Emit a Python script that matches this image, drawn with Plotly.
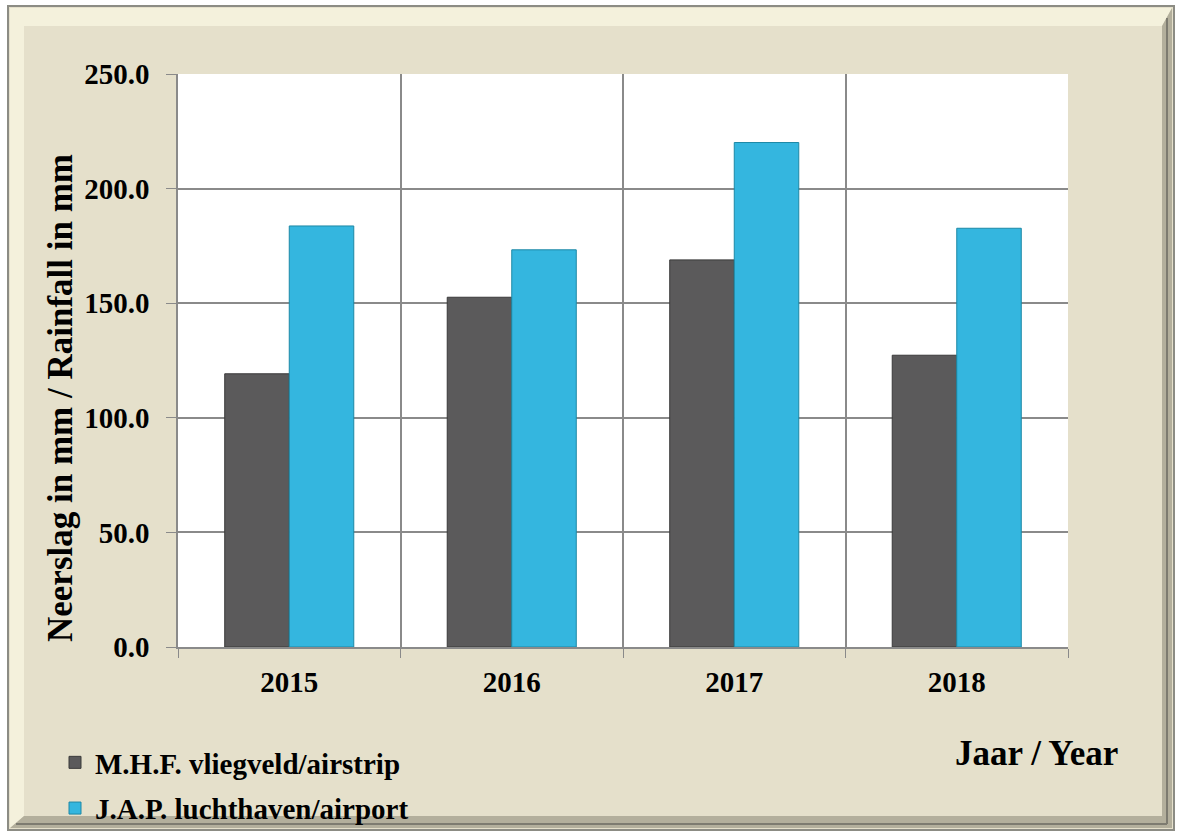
import plotly.graph_objects as go

years = ["2015", "2016", "2017", "2018"]
airstrip = [119.2, 152.6, 168.9, 127.3]
airport = [183.7, 173.3, 220.1, 182.7]
series_names = ["M.H.F. vliegveld/airstrip", "J.A.P. luchthaven/airport"]
y_ticks = [0, 50, 100, 150, 200, 250]
y_tick_text = ["0.0", "50.0", "100.0", "150.0", "200.0", "250.0"]

W, H = 1182, 838
L, R, T, B = 178, 1068, 74, 647
FONT = "Liberation Serif"

def px(x):
    return (x - L) / (R - L)

def py(y):
    return (B - y) / (B - T)

fig = go.Figure()
fig.add_trace(go.Bar(x=years, y=airstrip, name=series_names[0], legendgroup="a",
                     marker=dict(color="#5b5a5b", line=dict(color="#3a3a3a", width=1))))
fig.add_trace(go.Bar(x=years, y=airport, name=series_names[1], legendgroup="b",
                     marker=dict(color="#34b6df", line=dict(color="#1d88a6", width=1))))

shapes = []
# outer frame
shapes.append(dict(type="rect", xref="paper", yref="paper", x0=px(8), x1=px(1174), y0=py(6), y1=py(830),
                   fillcolor="#e5e0cb", line=dict(color="#8c8c84", width=2), layer="below"))
# top/left light bevel
shapes.append(dict(type="path", xref="paper", yref="paper",
                   path=f"M {px(10)} {py(8)} L {px(1172)} {py(8)} L {px(1162)} {py(26)} L {px(24)} {py(26)} L {px(24)} {py(816)} L {px(10)} {py(828)} Z",
                   fillcolor="#f4f1dc", line=dict(width=0), layer="below"))
# bottom/right dark bevel
shapes.append(dict(type="path", xref="paper", yref="paper",
                   path=f"M {px(1172)} {py(8)} L {px(1172)} {py(828)} L {px(10)} {py(828)} L {px(24)} {py(816)} L {px(1162)} {py(816)} L {px(1162)} {py(26)} Z",
                   fillcolor="#b3af9c", line=dict(width=0), layer="below"))
# inner dark edge lines
shapes.append(dict(type="line", xref="paper", yref="paper", x0=px(1167), x1=px(1167), y0=py(18), y1=py(824),
                   line=dict(color="#7d7b70", width=2), layer="below"))
shapes.append(dict(type="line", xref="paper", yref="paper", x0=px(16), x1=px(1167), y0=py(824), y1=py(824),
                   line=dict(color="#7d7b70", width=2), layer="below"))
# white plot area
shapes.append(dict(type="rect", xref="x domain", yref="y domain", x0=0, x1=1, y0=0, y1=1,
                   fillcolor="white", line=dict(width=0), layer="below"))

fig.update_layout(
    width=W, height=H,
    margin=dict(l=L, r=W - R, t=T, b=H - B, autoexpand=False),
    paper_bgcolor="white",
    plot_bgcolor="white",
    barmode="group",
    bargap=0.42,
    bargroupgap=0,
    shapes=shapes,
    font=dict(family=FONT, color="black"),
    legend=dict(x=px(55), y=py(737), xanchor="left", yanchor="top",
                font=dict(family=FONT, size=29, color="black", weight="bold"),
                bgcolor="rgba(0,0,0,0)", traceorder="grouped", tracegroupgap=5,
                itemwidth=30),
    showlegend=True,
    annotations=[
        dict(text="<b>Neerslag in mm / Rainfall in mm</b>", textangle=-90,
             xref="paper", yref="paper", x=px(61), y=py(398), xanchor="center", yanchor="middle",
             showarrow=False, font=dict(family=FONT, size=35, color="black")),
        dict(text="<b>Jaar / Year</b>", xref="paper", yref="paper", x=px(1036), y=py(753),
             xanchor="center", yanchor="middle",
             showarrow=False, font=dict(family=FONT, size=35, color="black")),
    ],
)

fig.update_xaxes(type="category", tickson="boundaries", showgrid=True, gridcolor="#8a8a8a",
                 gridwidth=1.5, showline=True, linecolor="#8a8a8a", linewidth=1.5,
                 ticks="outside", ticklen=9, tickcolor="#8a8a8a", ticklabelstandoff=8,
                 tickfont=dict(family=FONT, size=29, color="black", weight="bold"))
fig.update_yaxes(range=[0, 250], tickvals=y_ticks, ticktext=y_tick_text, showgrid=True,
                 gridcolor="#8a8a8a", gridwidth=1.5, showline=True, linecolor="#8a8a8a",
                 linewidth=1.5, ticks="outside", ticklen=10, tickcolor="#8a8a8a",
                 zeroline=False, ticklabelstandoff=11,
                 tickfont=dict(family=FONT, size=29, color="black", weight="bold"))

fig.write_html("out.html", config={"displayModeBar": False},
               post_script="document.body.style.margin='0px';document.body.style.overflow='hidden';")
